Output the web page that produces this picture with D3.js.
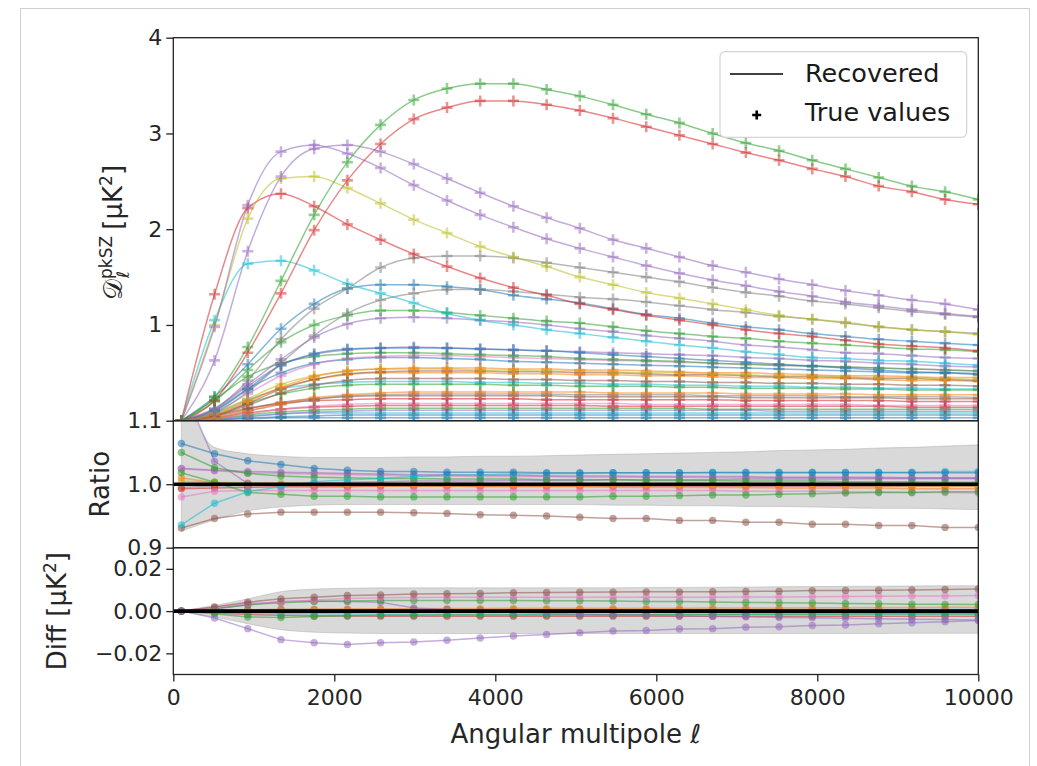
<!DOCTYPE html>
<html><head><meta charset="utf-8">
<script src="https://cdn.jsdelivr.net/npm/d3@7"></script>
<style>body{margin:0;background:#fff}svg{display:block}</style>
</head><body><svg id="c" width="1037" height="766"></svg>
<script>
// ---------- data ----------
const ell = [100, 512.5, 925, 1337.5, 1750, 2162.5, 2575, 2987.5, 3400, 3812.5, 4225, 4637.5, 5050, 5462.5, 5875, 6287.5, 6700, 7112.5, 7525, 7937.5, 8350, 8762.5, 9175, 9587.5, 10000];
const xTicks = [0, 2000, 4000, 6000, 8000, 10000];
const topTicks = [1, 2, 3, 4];
const ratioTicks = [0.9, 1.0, 1.1];
const diffTicks = [-0.02, 0.0, 0.02];

// top panel: D_ell (true values at ell grid)
const dGreenHigh = [0.00,0.25,0.77,1.46,2.15,2.70,3.09,3.35,3.47,3.52,3.52,3.46,3.39,3.30,3.20,3.11,3.00,2.90,2.82,2.72,2.63,2.54,2.45,2.39,2.31];
const dRedHigh   = [0.00,0.21,0.71,1.33,1.99,2.51,2.89,3.15,3.27,3.34,3.34,3.30,3.24,3.16,3.07,2.98,2.89,2.80,2.72,2.63,2.55,2.45,2.39,2.31,2.26];
const dPurpleA   = [0.00,0.98,2.25,2.81,2.88,2.79,2.64,2.46,2.30,2.15,2.02,1.90,1.80,1.71,1.62,1.54,1.47,1.41,1.35,1.30,1.24,1.20,1.16,1.12,1.09];
const dPurpleB   = [0.00,0.63,1.77,2.55,2.84,2.88,2.81,2.68,2.53,2.38,2.24,2.12,2.01,1.89,1.80,1.71,1.62,1.55,1.48,1.42,1.36,1.31,1.26,1.22,1.16];
const dOlive     = [0.00,1.00,2.11,2.53,2.55,2.43,2.27,2.10,1.96,1.82,1.71,1.61,1.50,1.42,1.34,1.28,1.22,1.16,1.10,1.06,1.03,0.98,0.95,0.93,0.90];
const dRedEarly  = [0.00,1.32,2.22,2.37,2.24,2.05,1.89,1.74,1.61,1.49,1.39,1.31,1.22,1.16,1.10,1.05,1.00,0.95,0.91,0.88,0.84,0.80,0.78,0.76,0.73];
const dCyan      = [0.00,1.05,1.64,1.67,1.57,1.43,1.33,1.23,1.12,1.05,1.00,0.95,0.91,0.87,0.83,0.79,0.76,0.72,0.69,0.66,0.65,0.63,0.62,0.60,0.58];
const dGrayHigh  = [0.00,0.12,0.42,0.85,1.17,1.38,1.60,1.70,1.72,1.72,1.70,1.65,1.60,1.55,1.50,1.45,1.39,1.34,1.30,1.25,1.22,1.18,1.14,1.11,1.08];
const dGrayLow   = [0.00,0.08,0.30,0.60,0.89,1.12,1.26,1.33,1.37,1.37,1.35,1.32,1.29,1.27,1.24,1.20,1.16,1.13,1.09,1.06,1.02,0.98,0.95,0.93,0.91];
const dBlueMid   = [0.00,0.25,0.59,0.96,1.22,1.38,1.42,1.42,1.40,1.37,1.31,1.27,1.23,1.17,1.11,1.07,1.02,0.98,0.95,0.91,0.88,0.85,0.83,0.81,0.79];
const dGreenMid  = [0.00,0.20,0.53,0.82,1.00,1.10,1.15,1.15,1.13,1.10,1.07,1.04,1.02,0.98,0.94,0.91,0.88,0.86,0.83,0.81,0.79,0.77,0.75,0.74,0.72];
const dPurpleMid = [0.00,0.13,0.38,0.64,0.87,1.01,1.07,1.08,1.07,1.05,1.03,1.00,0.96,0.93,0.89,0.86,0.83,0.79,0.77,0.74,0.71,0.70,0.68,0.66,0.65];
const dLow01 = [0,0.10,0.33,0.58,0.70,0.75,0.76,0.76,0.76,0.75,0.74,0.73,0.71,0.69,0.67,0.65,0.63,0.61,0.59,0.57,0.55,0.53,0.51,0.50,0.48];
const dLow02 = [0,0.12,0.36,0.58,0.69,0.74,0.76,0.77,0.76,0.75,0.74,0.73,0.72,0.71,0.70,0.69,0.68,0.66,0.65,0.63,0.62,0.60,0.59,0.57,0.56];
const dLow03 = [0,0.22,0.46,0.60,0.67,0.70,0.71,0.71,0.70,0.69,0.68,0.67,0.65,0.64,0.63,0.62,0.60,0.59,0.58,0.57,0.56,0.55,0.54,0.53,0.52];
const dLow04 = [0,0.09,0.28,0.47,0.59,0.65,0.67,0.68,0.68,0.67,0.66,0.65,0.64,0.63,0.62,0.61,0.60,0.59,0.58,0.57,0.56,0.55,0.54,0.53,0.52];
const dLow05 = [0,0.11,0.33,0.50,0.60,0.64,0.66,0.66,0.65,0.64,0.62,0.61,0.60,0.59,0.58,0.57,0.56,0.55,0.54,0.53,0.52,0.51,0.50,0.50,0.49];
const dLow06 = [0,0.06,0.20,0.35,0.46,0.52,0.54,0.55,0.55,0.55,0.54,0.54,0.53,0.53,0.52,0.51,0.50,0.50,0.49,0.48,0.47,0.47,0.46,0.45,0.45];
const dLow07 = [0,0.08,0.23,0.38,0.47,0.52,0.54,0.54,0.54,0.53,0.53,0.52,0.52,0.51,0.50,0.50,0.49,0.48,0.47,0.47,0.46,0.45,0.45,0.44,0.43];
const dLow08 = [0,0.05,0.18,0.33,0.43,0.49,0.51,0.52,0.52,0.52,0.51,0.51,0.50,0.50,0.49,0.48,0.48,0.47,0.46,0.46,0.45,0.44,0.44,0.43,0.42];
const dLow09 = [0,0.07,0.21,0.34,0.43,0.48,0.50,0.50,0.50,0.50,0.49,0.49,0.48,0.48,0.47,0.47,0.46,0.45,0.45,0.44,0.44,0.43,0.42,0.42,0.41];
const dLow10 = [0,0.05,0.16,0.29,0.37,0.42,0.44,0.44,0.44,0.44,0.43,0.43,0.42,0.42,0.41,0.41,0.40,0.40,0.39,0.39,0.38,0.38,0.37,0.37,0.36];
const dLow11 = [0,0.08,0.22,0.33,0.38,0.40,0.41,0.41,0.41,0.40,0.40,0.39,0.39,0.38,0.38,0.37,0.37,0.36,0.36,0.35,0.35,0.34,0.34,0.33,0.33];
const dLow12 = [0,0.06,0.18,0.28,0.34,0.37,0.38,0.38,0.38,0.38,0.37,0.37,0.36,0.36,0.36,0.35,0.35,0.34,0.34,0.34,0.33,0.33,0.32,0.32,0.32];
const dLow13 = [0,0.03,0.10,0.18,0.24,0.27,0.29,0.30,0.30,0.30,0.30,0.30,0.30,0.29,0.29,0.29,0.29,0.28,0.28,0.28,0.28,0.27,0.27,0.27,0.27];
const dLow14 = [0,0.03,0.10,0.17,0.22,0.26,0.27,0.28,0.28,0.28,0.28,0.28,0.27,0.27,0.27,0.27,0.26,0.26,0.26,0.26,0.25,0.25,0.25,0.25,0.24];
const dLow15 = [0,0.04,0.12,0.19,0.23,0.25,0.26,0.26,0.26,0.26,0.26,0.26,0.25,0.25,0.25,0.25,0.25,0.24,0.24,0.24,0.24,0.24,0.23,0.23,0.23];
const dLow16 = [0,0.05,0.13,0.18,0.21,0.22,0.23,0.23,0.23,0.23,0.23,0.22,0.22,0.22,0.22,0.22,0.22,0.21,0.21,0.21,0.21,0.21,0.20,0.20,0.20];
const dLow17 = [0,0.02,0.07,0.12,0.15,0.17,0.18,0.18,0.18,0.18,0.18,0.18,0.18,0.18,0.17,0.17,0.17,0.17,0.17,0.17,0.17,0.16,0.16,0.16,0.16];
const dLow18 = [0,0.03,0.08,0.12,0.14,0.15,0.16,0.16,0.16,0.16,0.16,0.16,0.16,0.15,0.15,0.15,0.15,0.15,0.15,0.15,0.15,0.15,0.14,0.14,0.14];
const dLow19 = [0,0.02,0.06,0.09,0.11,0.12,0.13,0.13,0.13,0.13,0.13,0.13,0.13,0.13,0.13,0.13,0.12,0.12,0.12,0.12,0.12,0.12,0.12,0.12,0.12];
const dLow20 = [0,0.01,0.04,0.07,0.09,0.10,0.11,0.11,0.11,0.11,0.11,0.11,0.11,0.11,0.11,0.11,0.11,0.11,0.10,0.10,0.10,0.10,0.10,0.10,0.10];
const dLow21 = [0,0.02,0.05,0.07,0.08,0.08,0.08,0.08,0.08,0.08,0.08,0.08,0.08,0.08,0.08,0.08,0.08,0.08,0.08,0.08,0.08,0.08,0.08,0.08,0.08];
const dLow22 = [0,0.01,0.03,0.04,0.05,0.06,0.06,0.06,0.06,0.06,0.06,0.06,0.06,0.06,0.06,0.06,0.06,0.06,0.06,0.06,0.06,0.06,0.06,0.06,0.06];
const dLow23 = [0,0.01,0.02,0.03,0.03,0.03,0.03,0.03,0.03,0.03,0.03,0.03,0.03,0.03,0.03,0.03,0.03,0.03,0.03,0.03,0.03,0.03,0.03,0.03,0.03];

// ratio panel
const ratioBandUpper = [1.16,1.058,1.048,1.044,1.042,1.042,1.042,1.043,1.043,1.044,1.044,1.045,1.046,1.047,1.048,1.049,1.050,1.051,1.053,1.054,1.055,1.057,1.058,1.060,1.062];
const ratioBandLower = [0.926,0.944,0.958,0.964,0.967,0.968,0.968,0.968,0.968,0.968,0.968,0.968,0.968,0.967,0.967,0.966,0.966,0.965,0.965,0.964,0.963,0.962,0.962,0.961,0.960];
const rBlue    = [1.064,1.048,1.037,1.031,1.025,1.022,1.020,1.020,1.019,1.019,1.019,1.018,1.018,1.018,1.018,1.018,1.018,1.018,1.018,1.018,1.018,1.018,1.018,1.018,1.018];
const rGreenA  = [1.050,1.026,1.017,1.013,1.011,1.010,1.009,1.009,1.008,1.008,1.008,1.007,1.007,1.007,1.006,1.006,1.006,1.005,1.005,1.005,1.004,1.004,1.004,1.003,1.003];
const rGreenB  = [1.018,1.003,0.987,0.984,0.981,0.981,0.980,0.980,0.980,0.980,0.980,0.980,0.980,0.981,0.981,0.982,0.983,0.983,0.984,0.985,0.986,0.987,0.987,0.988,0.988];
const rCyan    = [0.936,0.970,0.988,0.996,1.004,1.007,1.009,1.012,1.014,1.015,1.016,1.017,1.017,1.018,1.018,1.018,1.019,1.019,1.019,1.019,1.019,1.019,1.019,1.020,1.020];
const rBrown   = [0.931,0.946,0.953,0.956,0.956,0.956,0.956,0.955,0.954,0.952,0.951,0.950,0.948,0.946,0.946,0.943,0.943,0.940,0.940,0.937,0.937,0.935,0.935,0.932,0.932];
const rPurpleA = [1.160,1.036,1.001,0.999,1.001,1.003,1.004,1.005,1.005,1.005,1.006,1.006,1.006,1.007,1.007,1.007,1.007,1.008,1.008,1.008,1.008,1.009,1.009,1.009,1.009];
const rPurpleB = [1.025,1.022,1.020,1.019,1.018,1.017,1.016,1.015,1.015,1.014,1.014,1.013,1.013,1.013,1.012,1.012,1.012,1.012,1.011,1.011,1.011,1.011,1.010,1.010,1.010];
const rPinkA   = [1.024,1.021,1.018,1.017,1.016,1.015,1.014,1.013,1.013,1.012,1.012,1.012,1.011,1.011,1.011,1.011,1.010,1.010,1.010,1.010,1.010,1.009,1.009,1.009,1.009];
const rPinkB   = [0.980,0.989,0.990,0.990,0.990,0.990,0.990,0.990,0.990,0.990,0.990,0.990,0.990,0.990,0.990,0.990,0.990,0.989,0.989,0.989,0.988,0.988,0.987,0.987,0.986];
const rOrange  = [1.010,1.002,1.000,0.999,0.998,0.998,0.997,0.997,0.997,0.996,0.996,0.996,0.996,0.995,0.995,0.995,0.995,0.995,0.994,0.994,0.994,0.994,0.993,0.993,0.993];
const rOlive   = [1.005,1.003,1.002,1.002,1.001,1.001,1.001,1.001,1.001,1.001,1.000,1.000,1.000,1.000,1.000,0.999,0.999,0.999,0.999,0.999,0.998,0.998,0.998,0.997,0.997];
const rGray    = [0.995,0.997,0.998,0.998,0.998,0.998,0.998,0.998,0.998,0.998,0.998,0.998,0.998,0.998,0.998,0.998,0.998,0.998,0.998,0.998,0.998,0.998,0.998,0.998,0.998];
const rRed     = [0.993,0.994,0.995,0.996,0.996,0.996,0.997,0.997,0.997,0.997,0.997,0.997,0.997,0.997,0.997,0.997,0.997,0.997,0.997,0.997,0.997,0.997,0.997,0.997,0.997];

// diff panel
const diffBandUpper = [0.0002,0.0027,0.0058,0.0092,0.0104,0.0108,0.0110,0.0110,0.0110,0.0110,0.0110,0.0110,0.0110,0.0110,0.0112,0.0112,0.0113,0.0114,0.0115,0.0116,0.0117,0.0118,0.0119,0.0120,0.0120];
const diffBandLower = [-0.0002,-0.0028,-0.0060,-0.0088,-0.0100,-0.0104,-0.0106,-0.0106,-0.0106,-0.0106,-0.0106,-0.0106,-0.0106,-0.0106,-0.0106,-0.0106,-0.0106,-0.0106,-0.0106,-0.0106,-0.0106,-0.0106,-0.0105,-0.0105,-0.0105];
const fBrown   = [0,0.0020,0.0042,0.0058,0.0066,0.0074,0.0076,0.0081,0.0082,0.0083,0.0087,0.0088,0.0089,0.0090,0.0091,0.0091,0.0092,0.0093,0.0094,0.0097,0.0098,0.0099,0.0100,0.0102,0.0105];
const fPink    = [0,0.0018,0.0036,0.0042,0.0052,0.0060,0.0063,0.0064,0.0065,0.0066,0.0066,0.0066,0.0066,0.0066,0.0066,0.0066,0.0066,0.0067,0.0067,0.0068,0.0069,0.0070,0.0071,0.0072,0.0074];
const fGreenUp = [0,0.0012,0.0030,0.0040,0.0046,0.0048,0.0050,0.0050,0.0050,0.0050,0.0050,0.0049,0.0049,0.0048,0.0046,0.0045,0.0043,0.0041,0.0040,0.0038,0.0036,0.0035,0.0033,0.0032,0.0031];
const fPurpleLow = [0,-0.0033,-0.0083,-0.0135,-0.0150,-0.0158,-0.0150,-0.0146,-0.0138,-0.0127,-0.0118,-0.0111,-0.0102,-0.0094,-0.0092,-0.0085,-0.0083,-0.0076,-0.0074,-0.0068,-0.0066,-0.0060,-0.0055,-0.0050,-0.0045];
const fPurpleMid = [0,0.0010,0.0030,0.0045,0.0048,0.0045,0.0042,0.0015,0.0008,0.0002,-0.0005,-0.0010,-0.0015,-0.0018,-0.0020,-0.0022,-0.0025,-0.0027,-0.0030,-0.0032,-0.0034,-0.0036,-0.0038,-0.0040,-0.0042];
const fGreenDn = [0,-0.0012,-0.0028,-0.0030,-0.0025,-0.0022,-0.0020,-0.0020,-0.0019,-0.0019,-0.0018,-0.0018,-0.0018,-0.0017,-0.0017,-0.0016,-0.0016,-0.0015,-0.0015,-0.0014,-0.0014,-0.0013,-0.0013,-0.0012,-0.0012];
const fCyan    = [0,-0.0005,-0.0010,-0.0012,-0.0013,-0.0014,-0.0015,-0.0015,-0.0015,-0.0015,-0.0015,-0.0015,-0.0015,-0.0015,-0.0015,-0.0015,-0.0015,-0.0015,-0.0015,-0.0015,-0.0015,-0.0015,-0.0015,-0.0015,-0.0015];
const fRed     = [0,-0.0008,-0.0016,-0.0020,-0.0022,-0.0023,-0.0024,-0.0024,-0.0024,-0.0024,-0.0024,-0.0024,-0.0024,-0.0024,-0.0024,-0.0024,-0.0024,-0.0024,-0.0024,-0.0024,-0.0024,-0.0024,-0.0024,-0.0024,-0.0024];
const fOrange  = [0,0.0003,0.0006,0.0008,0.0009,0.0010,0.0011,0.0011,0.0012,0.0012,0.0013,0.0013,0.0013,0.0014,0.0014,0.0014,0.0015,0.0015,0.0015,0.0016,0.0016,0.0017,0.0017,0.0018,0.0018];
const fBlue    = [0,0.0004,0.0006,0.0007,0.0007,0.0007,0.0007,0.0007,0.0007,0.0007,0.0007,0.0007,0.0007,0.0007,0.0007,0.0007,0.0007,0.0007,0.0007,0.0007,0.0007,0.0007,0.0007,0.0007,0.0007];

// ---------- style mapping ----------
const C = {blue:"#1f77b4",orange:"#ff7f0e",green:"#2ca02c",red:"#d62728",purple:"#9467bd",brown:"#8c564b",pink:"#e377c2",gray:"#7f7f7f",olive:"#bcbd22",cyan:"#17becf"};
const topSeries = [
  [dLow23,C.blue],[dLow22,C.blue],[dLow21,C.cyan],[dLow20,C.purple],[dLow19,C.green],[dLow18,C.red],[dLow17,C.pink],
  [dLow16,C.red],[dLow15,C.brown],[dLow14,C.gray],[dLow13,C.orange],[dLow12,C.green],[dLow11,C.cyan],[dLow10,C.brown],
  [dLow09,C.orange],[dLow08,C.brown],[dLow07,C.olive],[dLow06,C.orange],[dLow05,C.blue],[dLow04,C.pink],[dLow03,C.green],
  [dLow02,C.purple],[dLow01,C.blue],
  [dPurpleMid,C.purple],[dGreenMid,C.green],[dBlueMid,C.blue],[dGrayLow,C.gray],[dGrayHigh,C.gray],[dCyan,C.cyan],
  [dRedEarly,C.red],[dOlive,C.olive],[dPurpleB,C.purple],[dPurpleA,C.purple],[dRedHigh,C.red],[dGreenHigh,C.green]
];
const ratioSeries = [[rGray,C.gray],[rRed,C.red],[rOlive,C.olive],[rOrange,C.orange],[rPinkB,C.pink],[rPinkA,C.pink],
  [rPurpleB,C.purple],[rPurpleA,C.purple],[rGreenB,C.green],[rGreenA,C.green],[rBrown,C.brown],[rCyan,C.cyan],[rBlue,C.blue]];
const diffSeries = [[fBlue,C.blue],[fOrange,C.orange],[fRed,C.red],[fCyan,C.cyan],[fGreenDn,C.green],[fPurpleMid,C.purple],
  [fGreenUp,C.green],[fPink,C.pink],[fBrown,C.brown],[fPurpleLow,C.purple]];

// ---------- drawing ----------
const svg = d3.select("#c");
const FONT = "DejaVu Sans";
const X0 = 173.3, X1 = 978.3;
const x = d3.scaleLinear().domain([0,10000]).range([X0,X1]);
const yTop = d3.scaleLinear().domain([0,4]).range([420.7,37.7]);
const yRat = d3.scaleLinear().domain([0.9,1.1]).range([547.7,420.7]);
const yDif = d3.scaleLinear().domain([-0.03,0.03]).range([674.5,547.7]);

svg.append("rect").attr("x",20.5).attr("y",8.5).attr("width",1009).attr("height",800)
  .attr("fill","none").attr("stroke","#cfcfcf").attr("stroke-width",1);

const defs = svg.append("defs");
function clip(id, sc){
  const r = sc.range();
  defs.append("clipPath").attr("id",id).append("rect")
    .attr("x",X0).attr("y",Math.min(r[0],r[1])).attr("width",X1-X0).attr("height",Math.abs(r[0]-r[1]));
}
clip("cTop",yTop); clip("cRat",yRat); clip("cDif",yDif);

// top panel
const gTop = svg.append("g").attr("clip-path","url(#cTop)");
const lineTop = d3.line().x((d,i)=>x(ell[i])).y(d=>yTop(d)).curve(d3.curveMonotoneX);
topSeries.forEach(([v,c])=>{
  gTop.append("path").attr("d",lineTop(v)).attr("fill","none").attr("stroke",c)
    .attr("stroke-width",1.5).attr("stroke-opacity",0.55);
});
topSeries.forEach(([v,c])=>{
  gTop.append("g").selectAll("path").data(v).join("path")
    .attr("transform",(d,i)=>`translate(${x(ell[i])},${yTop(d)})`)
    .attr("d","M-5.5,0H5.5M0,-5.5V5.5").attr("stroke",c).attr("stroke-width",2.6).attr("stroke-opacity",0.5);
});

// panels with band + dotted lines
function dotPanel(clipId, ys, upper, lower, series, ref){
  const g = svg.append("g").attr("clip-path",`url(#${clipId})`);
  const area = d3.area().x((d,i)=>x(ell[i])).y0((d,i)=>ys(lower[i])).y1(d=>ys(d)).curve(d3.curveMonotoneX);
  g.append("path").attr("d",area(upper)).attr("fill","#888").attr("fill-opacity",0.32)
    .attr("stroke","#888").attr("stroke-opacity",0.3).attr("stroke-width",1);
  const ln = d3.line().x((d,i)=>x(ell[i])).y(d=>ys(d));
  series.forEach(([v,c])=>{
    g.append("path").attr("d",ln(v)).attr("fill","none").attr("stroke",c).attr("stroke-width",1.5).attr("stroke-opacity",0.55);
    g.append("g").selectAll("circle").data(v).join("circle")
      .attr("cx",(d,i)=>x(ell[i])).attr("cy",d=>ys(d)).attr("r",3.7)
      .attr("fill",c).attr("fill-opacity",0.55);
  });
  g.append("line").attr("x1",X0).attr("x2",X1).attr("y1",ys(ref)).attr("y2",ys(ref))
    .attr("stroke","#000").attr("stroke-width",3.6);
}
dotPanel("cRat", yRat, ratioBandUpper, ratioBandLower, ratioSeries, 1.0);
dotPanel("cDif", yDif, diffBandUpper, diffBandLower, diffSeries, 0.0);

// axes
function styleAxis(g){
  g.select(".domain").remove();
  g.attr("font-family",FONT).attr("font-size",22);
  g.selectAll(".tick line").attr("stroke","#222").attr("stroke-width",1.3);
  g.selectAll(".tick text").attr("fill","#262626");
}
svg.append("g").attr("transform",`translate(${X0},0)`)
  .call(d3.axisLeft(yTop).tickValues(topTicks).tickFormat(d3.format("d")).tickSize(7).tickPadding(4)).call(styleAxis);
svg.append("g").attr("transform",`translate(${X0},0)`)
  .call(d3.axisLeft(yRat).tickValues(ratioTicks).tickFormat(d3.format(".1f")).tickSize(7).tickPadding(4)).call(styleAxis);
svg.append("g").attr("transform",`translate(${X0},0)`)
  .call(d3.axisLeft(yDif).tickValues(diffTicks).tickFormat(d3.format(".2f")).tickSize(7).tickPadding(4)).call(styleAxis);
svg.append("g").attr("transform",`translate(0,${yDif.range()[0]})`)
  .call(d3.axisBottom(x).tickValues(xTicks).tickFormat(d3.format("d")).tickSize(7).tickPadding(8)).call(styleAxis);

// spines
[yTop,yRat,yDif].forEach(sc=>{
  const r = sc.range();
  svg.append("rect").attr("x",X0).attr("y",Math.min(r[0],r[1])).attr("width",X1-X0).attr("height",Math.abs(r[0]-r[1]))
    .attr("fill","none").attr("stroke","#222").attr("stroke-width",1.3);
});

// axis labels
const txt = (s)=>s.attr("font-family",FONT).attr("fill","#262626");
const tl = svg.append("text").attr("transform","translate(122,300) rotate(-90)").attr("font-size",26).call(txt);
tl.append("tspan").attr("font-family","DejaVu Serif").text("𝒟");
tl.append("tspan").attr("font-size",17).attr("dy",-10).text("pkSZ");
tl.append("tspan").attr("font-size",17).attr("font-style","italic").attr("dx",-42).attr("dy",17).text("ℓ");
tl.append("tspan").attr("dx",33).attr("dy",-7).text(" [μK");
tl.append("tspan").attr("font-size",17).attr("dy",-10).text("2");
tl.append("tspan").attr("dy",10).text("]");

svg.append("text").attr("transform",`translate(109,${yRat(1.0)}) rotate(-90)`).attr("text-anchor","middle")
  .attr("font-size",26).call(txt).text("Ratio");
const dl = svg.append("text").attr("transform",`translate(66,${yDif(0)}) rotate(-90)`).attr("text-anchor","middle")
  .attr("font-size",26).call(txt);
dl.append("tspan").text("Diff [μK");
dl.append("tspan").attr("font-size",17).attr("dy",-10).text("2");
dl.append("tspan").attr("dy",10).text("]");

const xl = svg.append("text").attr("x",(X0+X1)/2).attr("y",743).attr("text-anchor","middle").attr("font-size",26).call(txt);
xl.append("tspan").text("Angular multipole ");
xl.append("tspan").attr("font-style","italic").text("ℓ");

// legend
const lg = svg.append("g");
lg.append("rect").attr("x",720).attr("y",51.7).attr("width",246.7).attr("height",85.6).attr("rx",5)
  .attr("fill","#fff").attr("fill-opacity",0.8).attr("stroke","#d4d4d4").attr("stroke-width",1.2);
lg.append("line").attr("x1",730).attr("x2",783).attr("y1",74).attr("y2",74).attr("stroke","#000").attr("stroke-width",1.5);
lg.append("path").attr("d","M-4.5,0H4.5M0,-4.5V4.5").attr("transform","translate(756.7,115)").attr("stroke","#000").attr("stroke-width",2.6);
lg.append("text").attr("x",805).attr("y",82).attr("font-size",25.5).call(txt).attr("fill","#1a1a1a").text("Recovered");
lg.append("text").attr("x",805).attr("y",121).attr("font-size",25.5).call(txt).attr("fill","#1a1a1a").text("True values");
</script></body></html>
